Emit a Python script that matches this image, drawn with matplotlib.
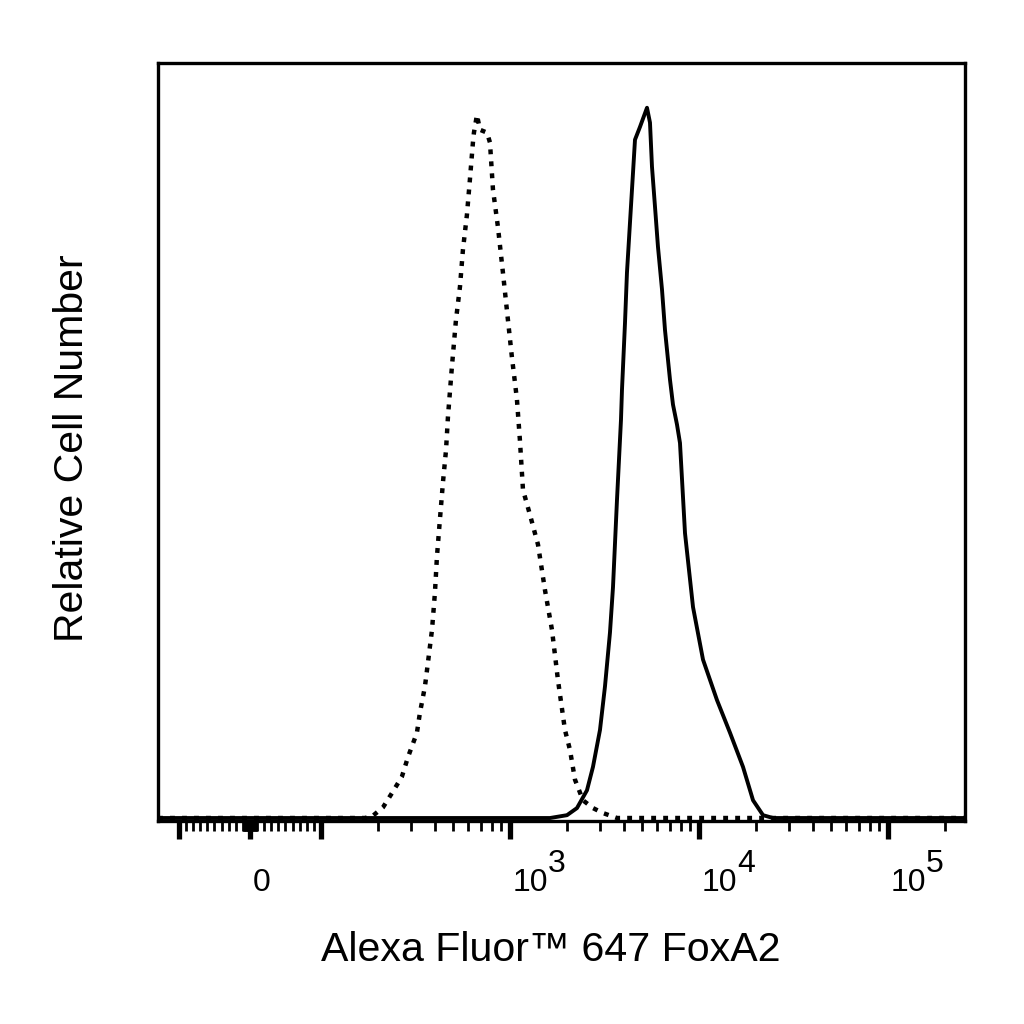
import matplotlib
matplotlib.use("Agg")
import matplotlib.pyplot as plt
import numpy as np
from matplotlib.transforms import blended_transform_factory, offset_copy

plt.rcParams['font.family'] = ['Liberation Sans', 'DejaVu Sans']

# isotype control (dotted) - fluorescence vs relative count
ctrl_x = [-129, 0, 100, 171, 188, 213, 240, 268, 289, 322, 334, 355, 368, 387, 401, 411,
          426, 442, 459, 470, 493, 518, 544, 564, 592, 614, 637, 645, 669, 694, 756,
          784, 813, 864, 918, 976, 1024, 1063, 1089, 1129, 1172, 1276, 1407, 1532,
          1668, 1795, 1954, 2077, 2208, 2433, 2749, 3105, 3683, 10000, 255300]
ctrl_y = [0, 0, 0, 0, 0.3, 1.5, 3.7, 5.8, 8.6, 12.0, 14.8, 18.5, 21.8, 26.5, 31.7, 36.8,
          42.0, 47.2, 51.8, 56.5, 63.5, 70.1, 74.8, 80.0, 84.9, 89.9, 95.1, 96.5, 99.0, 96.9, 96.5,
          95.1, 88.5, 83.2, 76.8, 70.1, 64.9, 61.3, 58.9, 53.2, 46.2, 42.7, 38.5, 32.1,
          26.5, 19.4, 12.4, 9.6, 5.4, 2.5, 1.4, 0.7, 0, 0, 0]

# FoxA2 stained (solid)
foxa2_x = [-129, 0, 1000, 1628, 2003, 2262, 2555, 2749, 2994, 3181, 3381, 3508, 3683, 3867,
           3914, 4060, 4159, 4314, 4475, 4586, 4873, 5308, 5505, 5640, 5850, 6068, 6372,
           6609, 7024, 7285, 7648, 7933, 8433, 9297, 10500, 12450, 14590, 17090, 19310,
           21810, 24640, 255300]
foxa2_y = [0, 0, 0, 0, 0.4, 1.4, 3.9, 7.2, 12.4, 18.5, 26.1, 32.5, 44.8, 56.1,
           60.3, 69.7, 76.8, 83.8, 90.8, 95.5, 97.3, 100, 97.9, 91.7, 86.1, 80.4, 74.4,
           68.7, 61.7, 58.2, 55.4, 52.8, 40.1, 29.7, 22.3, 16.6, 12.0, 7.2, 2.5,
           0.4, 0, 0]

major_ticks = [-100, 0, 100, 1000, 10000, 100000]
label_pos = [0, 1000, 10000, 100000]
label_base = ['0', '10', '10', '10']
label_exp = ['', '3', '4', '5']

fig = plt.figure(figsize=(10.24, 10.24), dpi=100)
ax = fig.add_axes([158/1024, 1 - 821/1024, 807/1024, 758/1024])

ax.plot(ctrl_x, ctrl_y, color='black', lw=3.2, linestyle=(0, (1.1, 1.6)))
ax.plot(foxa2_x, foxa2_y, color='black', lw=2.8, solid_joinstyle='round')

ax.set_xscale('symlog', linthresh=100, linscale=0.338)
ax.set_xlim(-129, 255300)
ax.set_ylim(-0.42, 106.3)

# minor ticks: linear part and log decades
minor = [s * v for s in (-1, 1) for v in range(10, 100, 10)]
minor += [s * v for s in (-1, 1) for v in range(1, 10)]
for dec in (100, 1000, 10000, 100000):
    minor += [dec * m for m in range(2, 10) if dec * m < 255300]
ax.set_xticks(major_ticks)
ax.set_xticks(minor, minor=True)
ax.set_xticklabels([])
ax.set_yticks([])
ax.tick_params(axis='x', which='major', direction='out', length=13, width=3.8)
ax.tick_params(axis='x', which='minor', direction='out', length=7.5, width=2)
for sp in ax.spines.values():
    sp.set_linewidth(2.4)

trans = blended_transform_factory(ax.transData, ax.transAxes)
base_tr = offset_copy(trans, fig=fig, x=3, y=-70, units='dots')
exp_tr = offset_copy(trans, fig=fig, x=38, y=-51, units='dots')
for pos, b, e in zip(label_pos, label_base, label_exp):
    ax.text(pos, 0, b, transform=base_tr, ha='left', va='baseline', fontsize=23)
    if e:
        ax.text(pos, 0, e, transform=exp_tr, ha='left', va='baseline', fontsize=23)

fig.text(551/1024, 1 - 961/1024, 'Alexa Fluor\u2122 647 FoxA2', ha='center', va='baseline', fontsize=29.6)
fig.text(72/1024, 1 - 448/1024, 'Relative Cell Number', rotation=90, ha='center', va='center', fontsize=29.5)

fig.savefig('out.png', dpi=100)
